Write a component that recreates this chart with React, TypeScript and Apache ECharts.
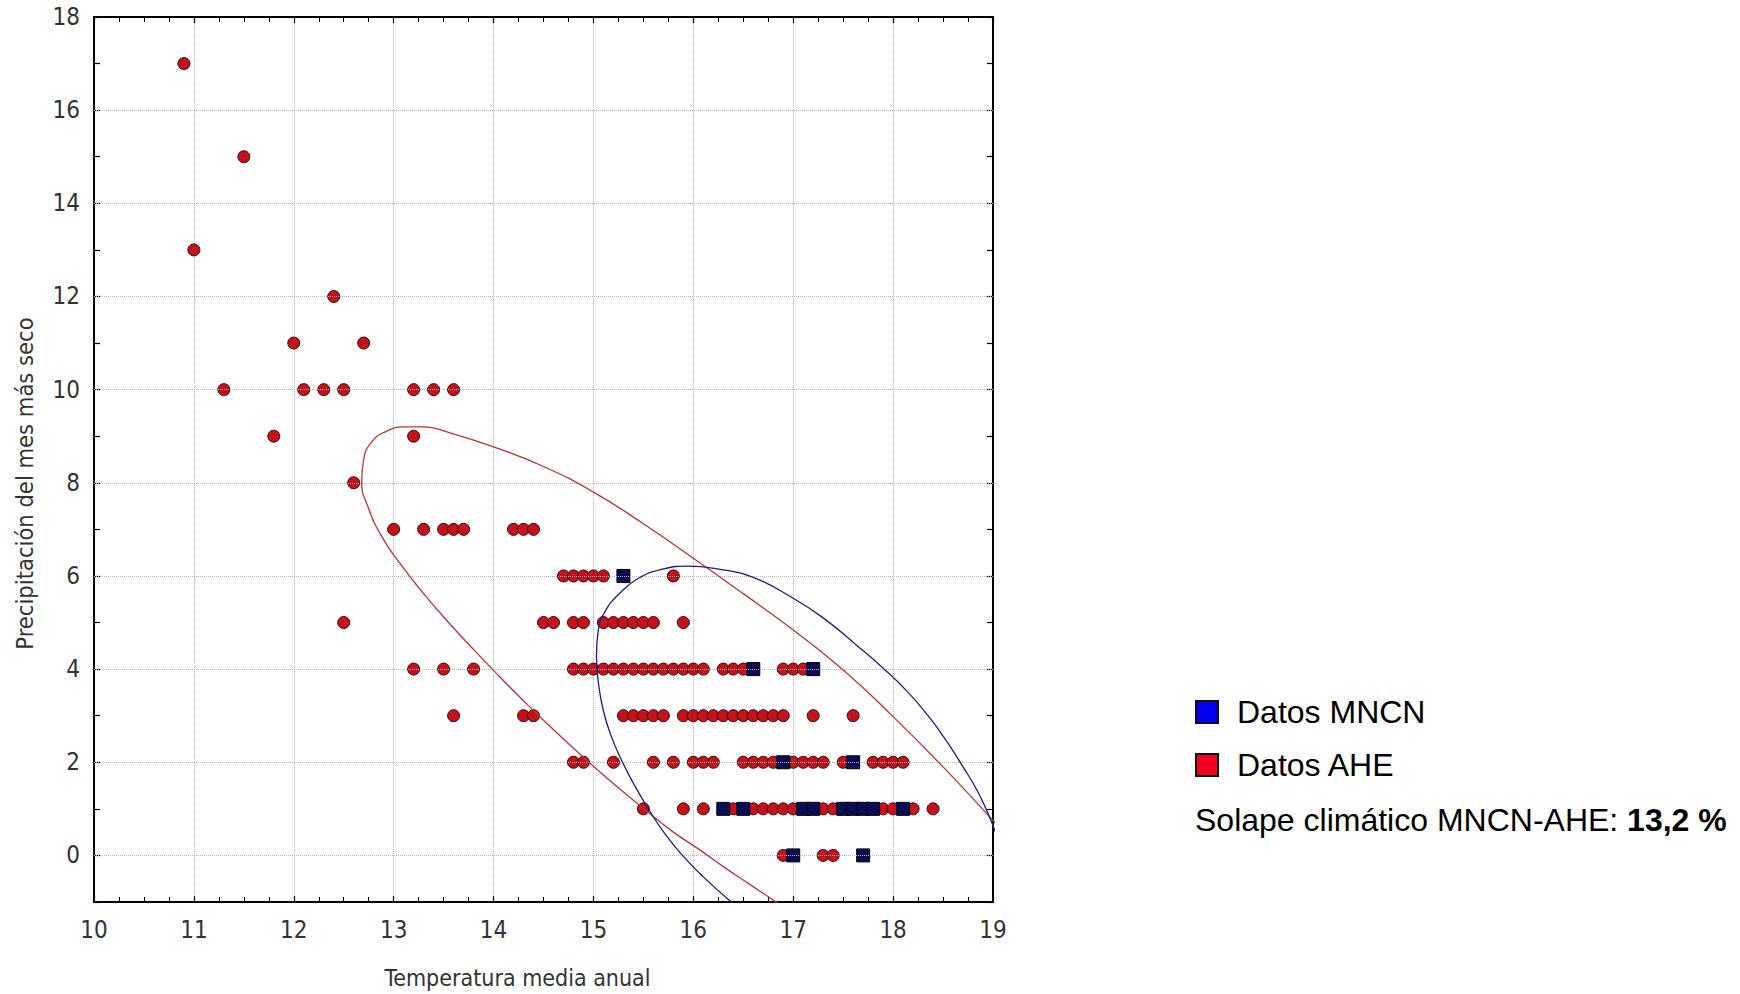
import React, { useEffect, useRef } from "react";
import * as echarts from "echarts";

// ---- axis ranges & tick labels ----
const xRange = [10, 19];
const yRange = [-1, 18];
const yLabelValues = [0, 2, 4, 6, 8, 10, 12, 14, 16, 18];
const yGridValues = [0, 2, 4, 6, 8, 10, 12, 14, 16];

// ---- Datos AHE (temperatura media anual, precipitación mes más seco) ----
const aheRowsHigh: number[][] = [
  [10.9, 17],
  [11.5, 15],
  [11.0, 13],
  [12.4, 12],
  [12.0, 11], [12.7, 11],
  [11.3, 10], [12.1, 10], [12.3, 10], [12.5, 10], [13.2, 10], [13.4, 10], [13.6, 10],
  [11.8, 9], [13.2, 9],
  [12.6, 8],
  [13.0, 7], [13.3, 7], [13.5, 7], [13.6, 7], [13.7, 7], [14.2, 7], [14.3, 7], [14.4, 7],
];
const aheRow6: number[][] = [[14.7, 6], [14.8, 6], [14.9, 6], [15.0, 6], [15.1, 6], [15.8, 6]];
const aheRow5: number[][] = [
  [12.5, 5], [14.5, 5], [14.6, 5], [14.8, 5], [14.9, 5],
  [15.1, 5], [15.2, 5], [15.3, 5], [15.4, 5], [15.5, 5], [15.6, 5], [15.9, 5],
];
const aheRow4: number[][] = [
  [13.2, 4], [13.5, 4], [13.8, 4],
  [14.8, 4], [14.9, 4], [15.0, 4], [15.1, 4], [15.2, 4], [15.3, 4], [15.4, 4],
  [15.5, 4], [15.6, 4], [15.7, 4], [15.8, 4], [15.9, 4], [16.0, 4], [16.1, 4],
  [16.3, 4], [16.4, 4], [16.5, 4], [16.9, 4], [17.0, 4], [17.1, 4],
];
const aheRow3: number[][] = [
  [13.6, 3], [14.3, 3], [14.4, 3],
  [15.3, 3], [15.4, 3], [15.5, 3], [15.6, 3], [15.7, 3],
  [15.9, 3], [16.0, 3], [16.1, 3], [16.2, 3], [16.3, 3], [16.4, 3], [16.5, 3],
  [16.6, 3], [16.7, 3], [16.8, 3], [16.9, 3], [17.2, 3], [17.6, 3],
];
const aheRow2: number[][] = [
  [14.8, 2], [14.9, 2], [15.2, 2], [15.6, 2], [15.8, 2], [16.0, 2], [16.1, 2], [16.2, 2],
  [16.5, 2], [16.6, 2], [16.7, 2], [16.8, 2], [17.0, 2], [17.1, 2], [17.2, 2], [17.3, 2],
  [17.5, 2], [17.8, 2], [17.9, 2], [18.0, 2], [18.1, 2],
];
const aheRow1: number[][] = [
  [15.5, 1], [15.9, 1], [16.1, 1], [16.4, 1], [16.6, 1], [16.7, 1], [16.8, 1], [16.9, 1],
  [17.0, 1], [17.3, 1], [17.4, 1], [17.9, 1], [18.0, 1], [18.2, 1], [18.4, 1],
];
const aheRow0: number[][] = [[16.9, 0], [17.3, 0], [17.4, 0]];

// ---- Datos MNCN ----
const mncnPoints: number[][] = [
  [15.3, 6],
  [16.6, 4], [17.2, 4],
  [16.9, 2], [17.6, 2],
  [16.3, 1], [16.5, 1], [17.1, 1], [17.2, 1], [17.5, 1], [17.6, 1], [17.7, 1], [17.8, 1], [18.1, 1],
  [17.0, 0], [17.7, 0],
];

// ---- confidence ellipses ----
const aheEllipse: number[][] = [
  [17.0, -1.26], [16.8, -0.96], [16.55, -0.6], [16.3, -0.24], [16.05, 0.14], [15.8, 0.5],
  [15.55, 0.92], [15.3, 1.36], [15.05, 1.82], [14.8, 2.3], [14.55, 2.8], [14.3, 3.32],
  [14.05, 3.86], [13.8, 4.42], [13.55, 5.0], [13.3, 5.62], [13.08, 6.22], [12.88, 6.85],
  [12.74, 7.5], [12.68, 8.0], [12.7, 8.5], [12.78, 8.88], [12.92, 9.1], [13.1, 9.2],
  [13.3, 9.2], [13.55, 9.08], [14.0, 8.77], [14.5, 8.35], [15.0, 7.8], [15.5, 7.12],
  [16.0, 6.38], [16.5, 5.62], [17.0, 4.84], [17.5, 3.98], [18.0, 2.98], [18.5, 1.9],
  [19.0, 0.75], [19.1, 0.5],
];
const mncnEllipse: number[][] = [
  [16.45, -1.1], [16.38, -1.0], [16.1, -0.46], [15.9, -0.02], [15.72, 0.45], [15.55, 1.0],
  [15.4, 1.55], [15.28, 2.05], [15.18, 2.55], [15.1, 3.1], [15.05, 3.7], [15.03, 4.3],
  [15.05, 4.85], [15.12, 5.25], [15.25, 5.6], [15.45, 5.95], [15.7, 6.15], [15.95, 6.21],
  [16.27, 6.14], [16.6, 5.97], [17.0, 5.52], [17.3, 5.1], [17.63, 4.52], [17.9, 4.02],
  [18.15, 3.5], [18.35, 3.0], [18.52, 2.5], [18.7, 1.9], [18.84, 1.4], [18.95, 0.9],
  [19.05, 0.35],
];

const ahePoints = [
  ...aheRowsHigh, ...aheRow6, ...aheRow5, ...aheRow4, ...aheRow3, ...aheRow2, ...aheRow1, ...aheRow0,
];

const narrow = "'Liberation Sans Narrow', 'Arial Narrow', 'DejaVu Sans Condensed', sans-serif";
const sans = "'Liberation Sans', Arial, Helvetica, sans-serif";

const axisLine = { show: true, onZero: false, lineStyle: { color: "#000", width: 2 } };
const axisTick = { show: true, inside: true, length: 6, lineStyle: { color: "#000", width: 1.2 } };

export default function App() {
  const ref = useRef<HTMLDivElement>(null);
  useEffect(() => {
    const chart = echarts.init(ref.current!, null, { renderer: "svg" });
    chart.setOption({
      animation: false,
      backgroundColor: "#fff",
      grid: { left: 94, top: 17, width: 899, height: 885, containLabel: false },
      title: {
        text: "{a|Solape climático MNCN-AHE: }{b|13,2 %}",
        left: 1195,
        top: 804,
        padding: 0,
        textStyle: {
          fontWeight: "normal",
          fontFamily: sans,
          fontSize: 32,
          rich: {
            a: { fontFamily: sans, fontSize: 32, color: "#000", fontWeight: "normal" },
            b: { fontFamily: sans, fontSize: 32, color: "#000", fontWeight: "bold" },
          },
        },
      },
      legend: {
        orient: "vertical",
        left: 1195,
        top: 696,
        padding: 0,
        itemWidth: 22,
        itemHeight: 22,
        itemGap: 21,
        selectedMode: false,
        textStyle: { fontFamily: sans, fontSize: 32, color: "#000", padding: [0, 0, 0, 14] },
        data: [
          {
            name: "Datos MNCN",
            icon: "rect",
            itemStyle: { color: "#0000f0", borderColor: "#111", borderWidth: 2, opacity: 1 },
          },
          {
            name: "Datos AHE",
            icon: "rect",
            itemStyle: { color: "#f0001c", borderColor: "#111", borderWidth: 2, opacity: 1 },
          },
        ],
      },
      xAxis: [
        {
          type: "value",
          position: "bottom",
          min: xRange[0],
          max: xRange[1],
          interval: 1,
          axisLine,
          axisTick,
          minorTick: { show: true, splitNumber: 4, length: 5, lineStyle: { color: "#000", width: 1 } },
          axisLabel: { color: "#333", fontSize: 24, fontFamily: narrow, margin: 16 },
          splitLine: { show: true, lineStyle: { color: "#b8b8b8", type: "dotted", width: 1 } },
          name: "Temperatura media anual",
          nameLocation: "middle",
          nameGap: 64,
          nameTextStyle: { color: "#333", fontSize: 23, fontFamily: narrow, padding: [0, 52, 0, 0] },
        },
        {
          type: "value",
          position: "top",
          min: xRange[0],
          max: xRange[1],
          interval: 1,
          axisLine,
          axisTick,
          minorTick: { show: true, splitNumber: 4, length: 5, lineStyle: { color: "#000", width: 1 } },
          axisLabel: { show: false },
          splitLine: { show: false },
        },
      ],
      yAxis: [
        {
          type: "value",
          position: "left",
          min: yRange[0],
          max: yRange[1],
          interval: 1,
          axisLine,
          axisTick,
          axisLabel: {
            color: "#333",
            fontSize: 24,
            fontFamily: narrow,
            margin: 14,
            formatter: (v: number) => (yLabelValues.indexOf(v) >= 0 ? String(v) : ""),
          },
          splitLine: { show: false },
          name: "Precipitación del mes más seco",
          nameLocation: "middle",
          nameGap: 57,
          nameTextStyle: { color: "#333", fontSize: 23.5, fontFamily: narrow, padding: [0, 48, 0, 0] },
        },
        {
          type: "value",
          position: "right",
          min: yRange[0],
          max: yRange[1],
          interval: 1,
          axisLine,
          axisTick,
          axisLabel: { show: false },
          splitLine: { show: false },
        },
      ],
      series: [
        {
          name: "grid",
          type: "scatter",
          data: [],
          silent: true,
          z: 1,
          markLine: {
            silent: true,
            symbol: "none",
            label: { show: false },
            lineStyle: { color: "#b8b8b8", type: "dotted", width: 1 },
            data: yGridValues.map((v) => ({ yAxis: v })),
          },
        },
        {
          name: "Datos AHE",
          type: "scatter",
          data: ahePoints,
          symbol: "circle",
          symbolSize: 12,
          itemStyle: { color: "#c3121b", borderColor: "#3c0606", borderWidth: 1, opacity: 1 },
          z: 3,
        },
        {
          name: "Datos MNCN",
          type: "scatter",
          data: mncnPoints,
          symbol: "rect",
          symbolSize: 13,
          itemStyle: { color: "#0c0c52", borderColor: "#00001a", borderWidth: 1, opacity: 1 },
          z: 4,
        },
        {
          name: "Elipse AHE",
          type: "line",
          data: aheEllipse,
          smooth: 0.5,
          symbol: "none",
          clip: true,
          silent: true,
          lineStyle: { color: "#bf3434", width: 1.3 },
          z: 5,
        },
        {
          name: "Elipse MNCN",
          type: "line",
          data: mncnEllipse,
          smooth: 0.5,
          symbol: "none",
          clip: true,
          silent: true,
          lineStyle: { color: "#1c1c86", width: 1.3 },
          z: 5,
        },
      ],
    });
    return () => chart.dispose();
  }, []);
  return (
    <div
      ref={ref}
      style={{ position: "absolute", left: 0, top: 0, width: 1740, height: 994, background: "#fff" }}
    />
  );
}
